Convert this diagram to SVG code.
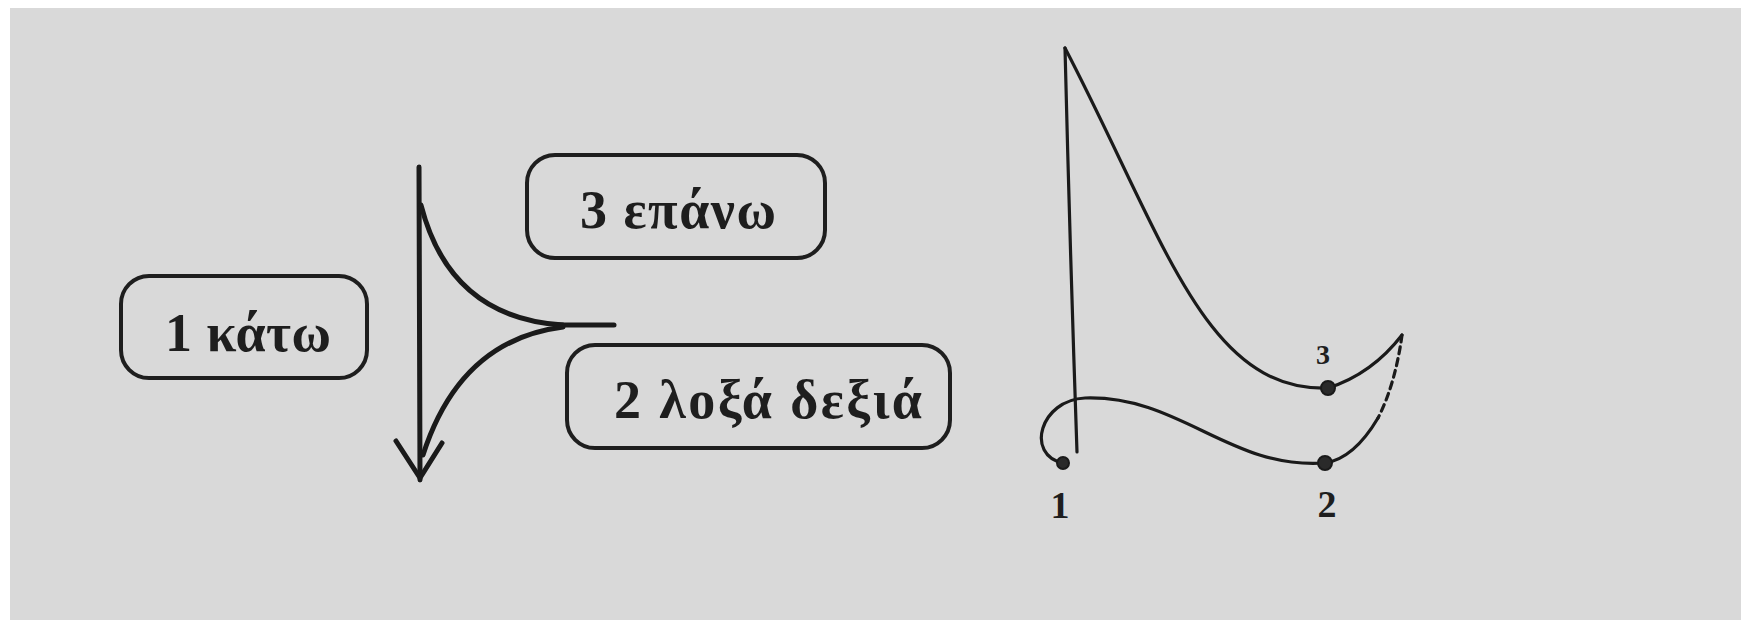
<svg xmlns="http://www.w3.org/2000/svg" width="1741" height="620" viewBox="0 0 1741 620">
  <style>
    .box { fill: none; stroke: #1e1e1e; stroke-width: 4; }
    .lbl { font-family: "Liberation Serif", "DejaVu Serif", serif; font-size: 54px; font-weight: bold; fill: #1e1e1e; }
    .ln { fill: none; stroke: #1a1a1a; stroke-linecap: round; stroke-linejoin: round; }
    .thick { stroke-width: 5; }
    .thin { stroke-width: 3.2; }
    .dot { fill: #2a2a2a; stroke: #1a1a1a; stroke-width: 2; }
    .num { font-family: "Liberation Serif", "DejaVu Serif", serif; font-weight: bold; fill: #1e1e1e; }
  </style>
  <rect x="0" y="0" width="1741" height="620" fill="#ffffff"/>
  <rect x="10" y="8" width="1731" height="612" fill="#d9d9d9"/>

  <g id="node-katw">
    <rect class="box" x="121" y="276" width="246" height="102" rx="28"/>
    <text class="lbl" x="165" y="351" textLength="166" lengthAdjust="spacing">1 κάτω</text>
  </g>
  <g id="node-epanw">
    <rect class="box" x="527" y="155" width="298" height="103" rx="28"/>
    <text class="lbl" x="580" y="228" textLength="196" lengthAdjust="spacing">3 επάνω</text>
  </g>
  <g id="node-loxa">
    <rect class="box" x="567" y="345" width="383" height="103" rx="28"/>
    <text class="lbl" x="614" y="418" textLength="308" lengthAdjust="spacing">2 λοξά δεξιά</text>
  </g>

  <g id="connectors">
    <!-- stroke symbol -->
    <path class="ln thick" d="M 419 167 L 420 480"/>
    <path class="ln thick" d="M 396 441 L 420 478 L 442 443"/>
    <path class="ln thick" d="M 421 205 Q 450 318 563 325"/>
    <path class="ln thick" d="M 563 327 Q 460 340 423 455"/>
    <path class="ln thick" d="M 555 325 L 614 325"/>
    <!-- writing path -->
    <path class="ln thin" d="M 1065 48 Q 1070 250 1077 452"/>
    <path class="ln thin" d="M 1065 48 C 1165 240, 1205 392, 1328 388"/>
    <path class="ln thin" d="M 1328 388 Q 1372 374 1402 335"/>
    <path class="ln thin" stroke-dasharray="7 5" d="M 1402 335 C 1398 365, 1390 395, 1378 418"/>
    <path class="ln thin" d="M 1378 418 C 1362 445, 1345 460, 1325 463"/>
    <path class="ln thin" d="M 1325 463 C 1230 470, 1180 395, 1085 398 C 1040 400, 1025 455, 1063 463"/>
  </g>

  <g id="point-1">
    <circle class="dot" cx="1063" cy="463" r="6"/>
    <text class="num" x="1060" y="518" font-size="38" text-anchor="middle">1</text>
  </g>
  <g id="point-2">
    <circle class="dot" cx="1325" cy="463" r="7"/>
    <text class="num" x="1327" y="517" font-size="38" text-anchor="middle">2</text>
  </g>
  <g id="point-3">
    <circle class="dot" cx="1328" cy="388" r="7"/>
    <text class="num" x="1323" y="364" font-size="28" text-anchor="middle">3</text>
  </g>
</svg>
